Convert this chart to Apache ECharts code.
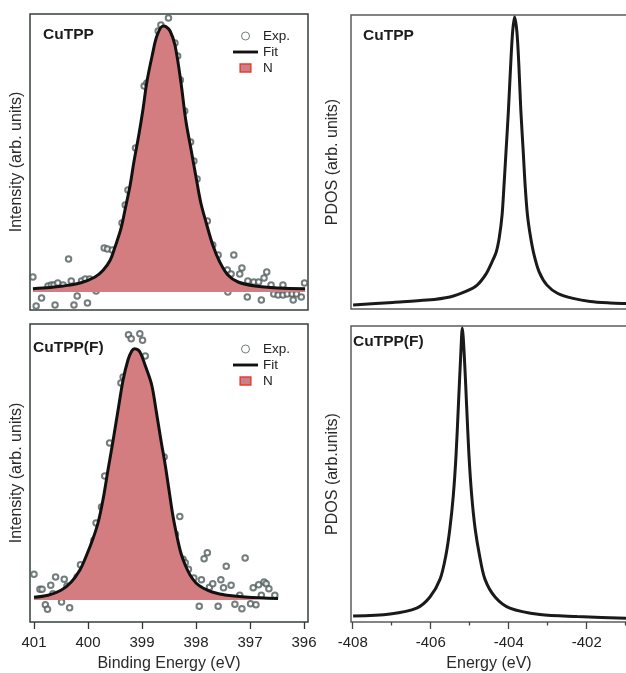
<!DOCTYPE html>
<html>
<head>
<meta charset="utf-8">
<script src="https://cdn.jsdelivr.net/npm/echarts@6/dist/echarts.min.js"></script>
<style>
  html, body { margin: 0; padding: 0; background: #fff; }
  #chart { width: 626px; height: 673px; }
</style>
</head>
<body>
<div id="chart"></div>
<script>
// ---- N 1s XPS, CuTPP (binding energy in eV, intensity in arb. units) ----
const cuFitBE = [401.02, 400.70, 400.50, 400.13, 399.87, 399.72, 399.59, 399.50, 399.39, 399.31, 399.22, 399.15, 399.06, 398.98, 398.91, 398.81, 398.72, 398.61, 398.56, 398.48, 398.39, 398.28, 398.19, 398.09, 398.00, 397.91, 397.81, 397.69, 397.56, 397.41, 397.22, 396.91, 396.48, 395.98];
const cuFitI  = [3.3, 4.5, 5.7, 9.3, 15, 21.7, 31.7, 45, 63.3, 83.3, 106.7, 130, 156.7, 183.3, 210, 236.7, 256.7, 266, 265.5, 261, 247, 210, 172, 142, 115, 89, 69, 47, 30, 17, 10, 6, 4, 3.3];
const cuExpBE = [401.02, 400.96, 400.86, 400.74, 400.68, 400.63, 400.61, 400.56, 400.46, 400.36, 400.31, 400.26, 400.20, 400.12, 400.05, 400.01, 399.97, 399.85, 399.70, 399.64, 399.55, 399.37, 399.31, 399.26, 399.12, 398.96, 398.91, 398.70, 398.65, 398.51, 398.39, 398.34, 398.29, 398.21, 398.10, 398.04, 397.98, 397.79, 397.69, 397.59, 397.42, 397.35, 397.30, 397.15, 397.19, 397.04, 396.93, 396.84, 396.74, 396.69, 396.61, 396.39, 395.99, 397.41, 397.05, 396.79, 396.56, 396.48, 396.39, 396.31, 396.22, 396.14, 396.05, 396.20];
const cuExpI  = [15, -14, -6, 6, 7, 7, -13, 9, 7, 33, 11, -13, -4, 11, 13, -11, 13, 1, 44, 43, 42, 69, 87, 102, 144, 206, 209, 261, 267, 274, 249, 236, 212, 181, 150, 131, 113, 71, 47, 37, 22, 18, 37, 24, 18, 11, 10, 10, 14, 20, 7, 7, 9, 0, -5, -8, -2, -3, -3, -2, -2, -2, -5, -8];

// ---- N 1s XPS, CuTPP(F) ----
const cufFitBE = [401.00, 400.74, 400.50, 400.31, 400.15, 400.04, 399.91, 399.81, 399.72, 399.63, 399.54, 399.44, 399.35, 399.26, 399.19, 399.14, 399.07, 399.02, 398.93, 398.82, 398.74, 398.65, 398.57, 398.50, 398.43, 398.35, 398.28, 398.20, 398.11, 398.00, 397.87, 397.70, 397.46, 397.09, 396.48];
const cufFitI  = [2.7, 4.7, 9.7, 18, 30, 43, 61, 78, 101, 130, 158, 191, 220, 240, 249, 251.3, 250, 246, 233, 215, 190, 160, 135, 110, 85, 63, 47, 35, 25, 17, 12, 8, 5, 3, 1.5];
const cufExpBE = [401.00, 400.89, 400.85, 400.79, 400.75, 400.69, 400.65, 400.60, 400.49, 400.44, 400.39, 400.34, 400.20, 400.14, 399.94, 399.89, 399.85, 399.75, 399.69, 399.60, 399.39, 399.35, 399.25, 399.20, 399.04, 398.99, 398.94, 398.88, 398.69, 398.59, 398.38, 398.30, 398.24, 398.20, 398.14, 398.04, 397.90, 397.85, 397.79, 397.75, 397.69, 397.54, 397.49, 397.44, 397.35, 397.09, 397.19, 396.94, 396.84, 396.74, 396.70, 396.65, 396.79, 396.54, 397.94, 397.59, 397.28, 397.15, 396.99, 396.89];
const cufExpI  = [25.7, 10.7, 10.7, -4.7, -9.3, 14.7, 6.3, 23, -2, 20.7, 14, -7.7, 23, 35.3, 48, 59.7, 77, 93, 124, 157, 217, 223, 265.3, 261.3, 266.3, 259.7, 244, 217, 147.3, 143, 65.7, 83.5, 40.7, 37.3, 30.7, 22, 20.3, 41.3, 47.3, 12.7, 16.3, 20.3, 12.3, 33.7, 14.7, 42, 4.7, 12.3, 15.3, 18, 16.3, 11.3, 4.7, 4.7, -6.3, -6.3, -4.3, -8.7, -3.7, -4.7];

// ---- N PDOS (energy in eV, normalised) ----
const pdosCuE = [-407.99, -406.97, -406.09, -405.51, -405.07, -404.81, -404.58, -404.43, -404.32, -404.24, -404.17, -404.12, -404.07, -404.01, -403.95, -403.90, -403.85, -403.79, -403.74, -403.69, -403.63, -403.58, -403.52, -403.44, -403.35, -403.22, -403.02, -402.74, -402.35, -401.91, -401.40, -400.99, -400.48];
const pdosCuV = [0, 0.009, 0.017, 0.028, 0.049, 0.069, 0.108, 0.149, 0.184, 0.236, 0.313, 0.417, 0.531, 0.670, 0.833, 0.948, 1.0, 0.948, 0.833, 0.677, 0.538, 0.417, 0.313, 0.236, 0.174, 0.115, 0.069, 0.040, 0.023, 0.012, 0.007, 0.005, 0.003];
const pdosCufE = [-407.99, -407.04, -406.36, -406.02, -405.76, -405.61, -405.51, -405.42, -405.35, -405.29, -405.23, -405.19, -405.14, -405.08, -405.02, -404.95, -404.86, -404.75, -404.61, -404.35, -403.97, -403.20, -402.25, -400.99, -400.48];
const pdosCufV = [0.017, 0.024, 0.044, 0.082, 0.143, 0.225, 0.314, 0.430, 0.567, 0.737, 0.908, 1.0, 0.908, 0.737, 0.567, 0.430, 0.314, 0.225, 0.143, 0.082, 0.044, 0.022, 0.015, 0.009, 0.007];

// ---- axis ticks ----
const beTicks = [396, 397, 398, 399, 400, 401];
const eMajorTicks = [-408, -406, -404, -402];
const eMinorTicks = [-407, -405, -403, -401];

const FONT = "'Liberation Sans', Arial, Helvetica, sans-serif";
const FILL = '#d47d80';
const RING = '#515c5c';
const XPS_BORDER = '#34403f';
const DOS_BORDER = '#5c5c5c';

const pairs = (xs, ys) => xs.map((x, i) => [x, ys[i]]);

const beRange = { min: 395.926, max: 401.074 };
const eRange = { min: -408.044, max: -400.48 };

function hiddenX(grid, range, inverse) {
  return {
    gridIndex: grid, type: 'value', position: 'bottom', min: range.min, max: range.max, inverse: !!inverse,
    axisLine: { show: false, onZero: false }, axisTick: { show: false }, axisLabel: { show: false },
    splitLine: { show: false }
  };
}
// bottom axis whose line sits on the panel frame, ticks pointing outward
function tickedX(grid, range, inverse, ticks, len, color, withLabels) {
  return {
    gridIndex: grid, type: 'value', position: 'bottom', min: range.min, max: range.max, inverse: !!inverse,
    axisLine: { show: true, onZero: false, lineStyle: { color: 'rgba(0,0,0,0)', width: 1 } },
    axisTick: { show: true, inside: false, customValues: ticks, length: len, lineStyle: { color: color, width: 1.3 } },
    axisLabel: withLabels
      ? { show: true, customValues: ticks, margin: 13, fontFamily: FONT, fontSize: 15, color: '#222' }
      : { show: false },
    splitLine: { show: false }
  };
}
function yAx(grid, min, max, name, gap) {
  return {
    gridIndex: grid, type: 'value', min: min, max: max,
    axisLine: { show: false, onZero: false }, axisTick: { show: false }, axisLabel: { show: false },
    splitLine: { show: false },
    name: name, nameLocation: 'middle', nameGap: gap, nameRotate: 90,
    nameTextStyle: { fontFamily: FONT, fontSize: 16, color: '#2a2a2a' }
  };
}
function xpsSeries(ax, fitX, fitY, expX, expY) {
  return [
    {
      name: 'N', type: 'line', xAxisIndex: ax, yAxisIndex: ax,
      data: pairs(fitX, fitY), smooth: 0.35, symbol: 'none', silent: true,
      lineStyle: { width: 0 }, itemStyle: { color: FILL },
      areaStyle: { color: FILL, opacity: 1, origin: 0 }
    },
    {
      name: 'Exp.', type: 'scatter', xAxisIndex: ax, yAxisIndex: ax,
      data: pairs(expX, expY), symbol: 'emptyCircle', symbolSize: 5.5,
      itemStyle: { color: RING, borderWidth: 0.85 }
    },
    {
      name: 'Fit', type: 'line', xAxisIndex: ax, yAxisIndex: ax,
      data: pairs(fitX, fitY), smooth: 0.35, symbol: 'none',
      lineStyle: { color: '#111', width: 3 }, itemStyle: { color: '#111' }
    }
  ];
}
function dosSeries(ax, xs, ys) {
  return {
    name: 'PDOS' + ax, type: 'line', xAxisIndex: ax, yAxisIndex: ax,
    data: pairs(xs, ys), smooth: 0.3, symbol: 'none',
    lineStyle: { color: '#1a1a1a', width: 3 }
  };
}
function legendAt(top) {
  return {
    orient: 'vertical', left: 233, top: top, padding: 0,
    itemWidth: 25, itemHeight: 8, itemGap: 2,
    selectedMode: false,
    textStyle: { fontFamily: FONT, fontSize: 13.5, color: '#222' },
    data: [
      { name: 'Exp.', icon: 'circle', itemStyle: { color: '#fff', borderColor: RING, borderWidth: 1 } },
      { name: 'Fit', icon: 'path://M0,0H26V3H0Z', itemStyle: { color: '#111', borderWidth: 0 } },
      { name: 'N', icon: 'path://M0,0H12V9H0Z', itemStyle: { color: '#c98089', borderColor: '#ec3b2c', borderWidth: 1.5 } }
    ]
  };
}
function label(x, y, text) {
  return {
    type: 'text', x: x, y: y,
    style: { text: text, font: 'bold 15.5px ' + FONT, fill: '#1c1c1c', verticalAlign: 'middle' }
  };
}
function gridBox(left, top, width, height, color) {
  return {
    left: left, top: top, width: width, height: height,
    show: true, borderColor: color, borderWidth: 1.5,
    outerBoundsMode: 'none', containLabel: false
  };
}

const beAxis = tickedX(1, beRange, true, beTicks, 7, '#333', true);
beAxis.name = 'Binding Energy (eV)';
beAxis.nameLocation = 'middle';
beAxis.nameGap = 34;
beAxis.nameTextStyle = { fontFamily: FONT, fontSize: 16, color: '#2a2a2a' };

const eAxis = tickedX(3, eRange, false, eMajorTicks, 7, '#444', true);
eAxis.name = 'Energy (eV)';
eAxis.nameLocation = 'middle';
eAxis.nameGap = 34;
eAxis.nameTextStyle = { fontFamily: FONT, fontSize: 16, color: '#2a2a2a', padding: [0, 19, 0, 0] };

const chart = echarts.init(document.getElementById('chart'), null, { renderer: 'canvas' });
chart.setOption({
  backgroundColor: '#fff',
  animation: false,
  grid: [
    gridBox(30, 14, 278, 296, XPS_BORDER),
    gridBox(30, 324, 278, 298, XPS_BORDER),
    gridBox(351, 15, 295, 294, DOS_BORDER),
    gridBox(351, 326, 295, 296, DOS_BORDER)
  ],
  xAxis: [
    hiddenX(0, beRange, true),
    beAxis,
    hiddenX(2, eRange, false),
    eAxis,
    tickedX(3, eRange, false, eMinorTicks, 3.5, '#444', false)
  ],
  yAxis: [
    yAx(0, -18, 278, 'Intensity (arb. units)', 5),
    yAx(1, -22, 276, 'Intensity (arb. units)', 5),
    yAx(2, -0.0139, 1.007, 'PDOS (arb. units)', 10),
    yAx(3, -0.0034, 1.007, 'PDOS (arb.units)', 10)
  ],
  legend: [legendAt(29), legendAt(342)],
  series: [
    ...xpsSeries(0, cuFitBE, cuFitI, cuExpBE, cuExpI),
    ...xpsSeries(1, cufFitBE, cufFitI, cufExpBE, cufExpI),
    dosSeries(2, pdosCuE, pdosCuV),
    dosSeries(3, pdosCufE, pdosCufV)
  ],
  graphic: [
    label(43, 35, 'CuTPP'),
    label(33, 348, 'CuTPP(F)'),
    label(363, 36, 'CuTPP'),
    label(353, 342, 'CuTPP(F)')
  ]
});
</script>
</body>
</html>
